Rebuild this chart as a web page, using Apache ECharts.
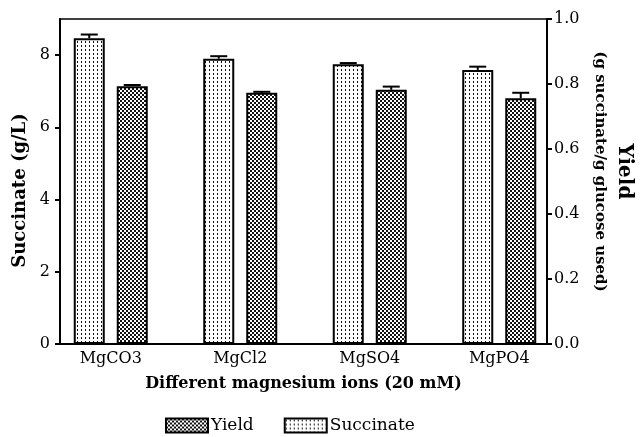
<!DOCTYPE html>
<html>
<head>
<meta charset="utf-8">
<script src="https://cdn.jsdelivr.net/npm/echarts@6/dist/echarts.min.js"></script>
<style>
  html, body { margin: 0; padding: 0; background: #fff; }
  #chart { width: 642px; height: 437px; }
</style>
</head>
<body>
<div id="chart"></div>
<script>
// data
var categories = ['MgCO3', 'MgCl2', 'MgSO4', 'MgPO4']
var succinate = [8.47, 7.90, 7.75, 7.59]      // g/L
var succinateErr = [0.10, 0.07, 0.03, 0.09]
var yieldVals = [0.793, 0.773, 0.782, 0.756]  // g succinate / g glucose
var yieldErr = [0.004, 0.003, 0.010, 0.017]
var leftTicks = [0, 2, 4, 6, 8]
var rightTicks = [0, 0.2, 0.4, 0.6, 0.8, 1.0]

var FONT = 'DejaVu Serif'
var BAR_W = 31
var BAR_GAP = 12
var CAP_W = 17

// fill patterns
function makePattern(draw) {
  var c = document.createElement('canvas')
  c.width = 4
  c.height = 4
  var ctx = c.getContext('2d')
  ctx.fillStyle = '#fff'
  ctx.fillRect(0, 0, 4, 4)
  ctx.fillStyle = '#111'
  draw(ctx)
  return { image: c, repeat: 'repeat' }
}
var dotPattern = makePattern(function(ctx) { ctx.fillRect(1, 1, 1, 2) })
var checkPattern = makePattern(function(ctx) {
  ctx.fillRect(0, 0, 2, 2)
  ctx.fillRect(2, 2, 2, 2)
})

function errData(vals, errs) {
  return vals.map(function(v, i) { return [i, v, errs[i]] })
}

function errRender(offset) {
  return function(params, api) {
    var x = api.value(0)
    var top = api.coord([x, api.value(1) + api.value(2)])
    var bot = api.coord([x, api.value(1)])
    var cx = top[0] + offset
    var st = { stroke: '#000', lineWidth: 2 }
    return {
      type: 'group',
      children: [
        { type: 'line', shape: { x1: cx, y1: bot[1], x2: cx, y2: top[1] }, style: st },
        { type: 'line', shape: { x1: cx - CAP_W / 2, y1: top[1], x2: cx + CAP_W / 2, y2: top[1] }, style: st }
      ]
    }
  }
}

var shift = (BAR_W + BAR_GAP) / 2
var chart = echarts.init(document.getElementById('chart'), null, { renderer: 'canvas' })

var option = {
  animation: false,
  backgroundColor: '#fff',
  textStyle: { fontFamily: FONT, color: '#000' },
  legend: {
    data: ['Yield', 'Succinate'],
    top: 412,
    left: 160,
    icon: 'rect',
    itemWidth: 42,
    itemHeight: 14,
    itemGap: 30,
    textStyle: { fontFamily: FONT, fontSize: 17, color: '#000', padding: [0, 0, 0, -2] }
  },
  grid: [
    // bars
    { left: 46, right: 78, top: 19, bottom: 93 },
    // frame / visible axes
    { left: 60, right: 91, top: 19, bottom: 93, show: true, borderColor: '#000', borderWidth: 1.5, backgroundColor: 'transparent' }
  ],
  xAxis: [
    {
      type: 'category',
      gridIndex: 0,
      data: categories,
      axisLine: { show: false },
      axisTick: { show: false },
      axisLabel: { fontFamily: FONT, fontSize: 16, color: '#000', margin: 7 }
    },
    {
      type: 'category',
      gridIndex: 1,
      data: categories,
      axisLine: { lineStyle: { color: '#000', width: 2 } },
      axisTick: { show: false },
      axisLabel: { show: false },
      name: 'Different magnesium ions (20 mM)',
      nameLocation: 'middle',
      nameGap: 32,
      nameTextStyle: { fontFamily: FONT, fontSize: 16, fontWeight: 'bold', color: '#000' }
    }
  ],
  yAxis: [
    { type: 'value', gridIndex: 0, min: 0, max: 9, show: false },
    { type: 'value', gridIndex: 0, min: 0, max: 1, show: false },
    {
      type: 'value',
      gridIndex: 1,
      position: 'left',
      min: 0,
      max: 9,
      splitLine: { show: false },
      axisLine: { show: true, lineStyle: { color: '#000', width: 2 } },
      axisTick: { show: true, length: 5, lineStyle: { color: '#000', width: 2 }, customValues: leftTicks },
      axisLabel: { fontFamily: FONT, fontSize: 16, color: '#000', margin: 10, customValues: leftTicks },
      name: 'Succinate (g/L)',
      nameLocation: 'middle',
      nameGap: 30,
      nameTextStyle: { fontFamily: FONT, fontSize: 18, fontWeight: 'bold', color: '#000', padding: [0, 18, 0, 0] }
    },
    {
      type: 'value',
      gridIndex: 1,
      position: 'right',
      min: 0,
      max: 1,
      splitLine: { show: false },
      axisLine: { show: true, lineStyle: { color: '#000', width: 2 } },
      axisTick: { show: true, length: 5, lineStyle: { color: '#000', width: 2 }, customValues: rightTicks },
      axisLabel: {
        fontFamily: FONT, fontSize: 16, color: '#000', margin: 7, customValues: rightTicks,
        formatter: function(v) { return v.toFixed(1) }
      },
      name: '{a|Yield}\n{b|(g succinate/g glucose used)}',
      nameLocation: 'middle',
      nameRotate: -90,
      nameGap: 44,
      nameTextStyle: {
        color: '#000',
        padding: [0, 20, 0, 0],
        rich: {
          a: { fontFamily: FONT, fontSize: 20, fontWeight: 'bold', lineHeight: 30 },
          b: { fontFamily: FONT, fontSize: 15, fontWeight: 'bold', lineHeight: 18 }
        }
      }
    }
  ],
  series: [
    {
      name: 'Succinate',
      type: 'bar',
      xAxisIndex: 0,
      yAxisIndex: 0,
      barWidth: BAR_W,
      barGap: (BAR_GAP / BAR_W * 100) + '%',
      data: succinate,
      itemStyle: { color: dotPattern, borderColor: '#000', borderWidth: 2 }
    },
    {
      name: 'Yield',
      type: 'bar',
      xAxisIndex: 0,
      yAxisIndex: 1,
      barWidth: BAR_W,
      barGap: (BAR_GAP / BAR_W * 100) + '%',
      data: yieldVals,
      itemStyle: { color: checkPattern, borderColor: '#000', borderWidth: 2 }
    },
    {
      type: 'custom',
      xAxisIndex: 0,
      yAxisIndex: 0,
      z: 5,
      renderItem: errRender(-shift),
      data: errData(succinate, succinateErr)
    },
    {
      type: 'custom',
      xAxisIndex: 0,
      yAxisIndex: 1,
      z: 5,
      renderItem: errRender(shift),
      data: errData(yieldVals, yieldErr)
    }
  ]
}
chart.setOption(option)
</script>
</body>
</html>
